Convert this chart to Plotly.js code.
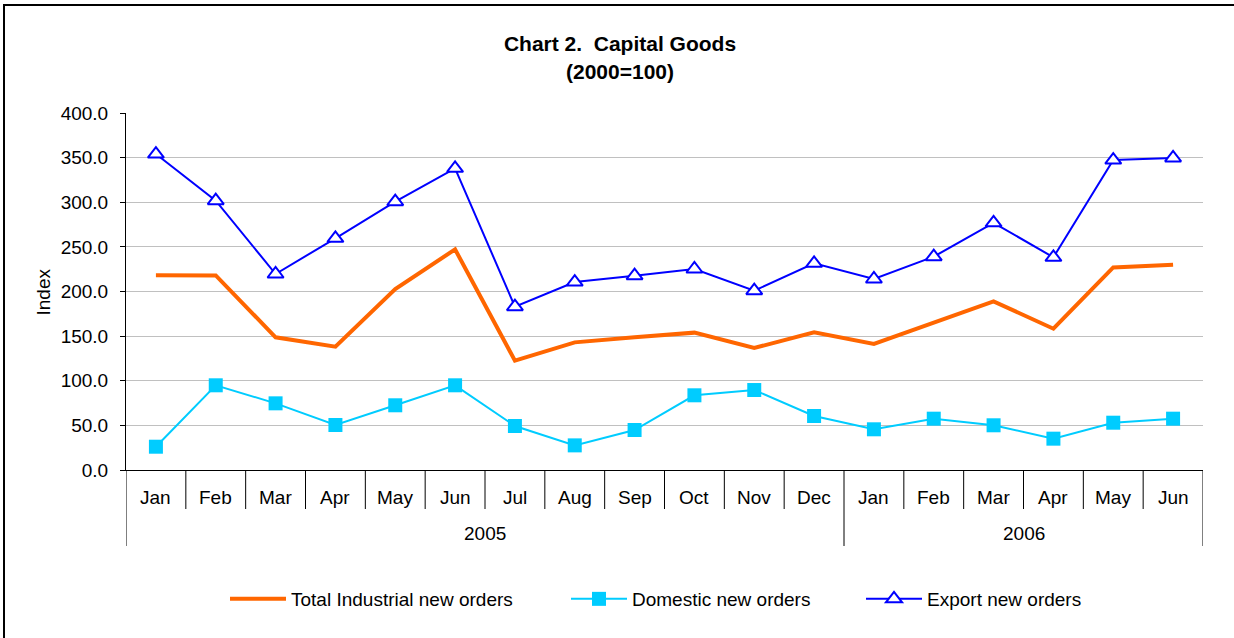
<!DOCTYPE html>
<html>
<head>
<meta charset="utf-8">
<script src="https://cdn.plot.ly/plotly-3.0.1.min.js"></script>
<style>
  html, body { margin: 0; padding: 0; background: #fff; overflow: hidden; }
  #wrap { position: relative; width: 1234px; height: 638px; }
  #chart { width: 1234px; height: 638px; }
  #frame { position: absolute; left: 3px; top: 4px; width: 2000px; height: 2000px;
           border-top: 2px solid #000; border-left: 2px solid #000; pointer-events: none; }
</style>
</head>
<body>
<div id="wrap">
  <div id="chart"></div>
  <div id="frame"></div>
</div>
<script>
// ---- Data ----
const months = ["Jan","Feb","Mar","Apr","May","Jun","Jul","Aug","Sep","Oct","Nov","Dec",
                "Jan","Feb","Mar","Apr","May","Jun"];
const years  = ["2005","2005","2005","2005","2005","2005","2005","2005","2005","2005","2005","2005",
                "2006","2006","2006","2006","2006","2006"];
const totalOrders    = [218.2, 218.0, 148.7, 138.2, 202.8, 247.2, 122.5, 143.0, 148.7, 153.9, 136.7, 154.3,
                        141.2, 165.0, 189.0, 158.3, 227.0, 230.0];
const domesticOrders = [26.1, 94.9, 74.7, 50.4, 72.5, 94.9, 49.3, 27.6, 44.8, 83.7, 89.6, 60.5,
                        45.6, 57.5, 50.1, 35.1, 53.0, 57.5];
const exportOrders   = [354.0, 301.8, 219.6, 259.6, 300.6, 338.0, 183.0, 210.6, 217.7, 225.2, 200.9, 231.6,
                        214.0, 239.0, 277.0, 238.3, 347.3, 349.6];
const seriesNames = ["Total Industrial new orders", "Domestic new orders", "Export new orders"];
const titleLine1 = "Chart 2.\u00a0 Capital Goods";
const titleLine2 = "(2000=100)";
const yTitle = "Index";

// ---- Layout helpers ----
const W = 1234, H = 638;
const mL = 126, mR = 31, mT = 113, mB = 168;
const plotH = H - mT - mB;           // 357
const plotW = W - mL - mR;           // 1077
const pyBelow = px => -px / plotH;   // pixels below x-axis -> paper y
const pyAbs = px => (H - mB - px) / plotH; // absolute pixel y -> paper y
const pxX = px => (px - mL) / plotW; // absolute pixel x -> paper x

const xIdx = months.map((_, i) => i);
const FONT = "Liberation Sans, Arial, sans-serif";

const traces = [
  { x: xIdx, y: totalOrders, name: seriesNames[0], type: "scatter", mode: "lines",
    line: { color: "#FF6600", width: 4 }, legend: "legend", showlegend: true },
  { x: xIdx, y: domesticOrders, name: seriesNames[1], type: "scatter", mode: "lines+markers",
    line: { color: "#00CCFF", width: 2 },
    marker: { symbol: "square", size: 14, color: "#00CCFF" }, legend: "legend2" },
  { x: xIdx, y: exportOrders, name: seriesNames[2], type: "scatter", mode: "lines+markers",
    line: { color: "#0000FF", width: 2 },
    marker: { symbol: "triangle-up", size: 14, color: "#FFFFFF", line: { color: "#0000FF", width: 2 } },
    legend: "legend3" }
];

// separators between categories
const shapes = [];
for (let i = 0; i <= months.length; i++) {
  const isYearBoundary = (i === 0 || i === months.length || years[i] !== years[i - 1]);
  shapes.push({ type: "line", xref: "x", yref: "paper", x0: i - 0.5, x1: i - 0.5,
    y0: 0, y1: pyBelow(isYearBoundary ? 76 : 39), line: { color: "#000", width: 1 } });
}

const annotations = [];
months.forEach((m, i) => annotations.push({
  text: m, xref: "x", yref: "paper", x: i, y: pyBelow(27), showarrow: false,
  xanchor: "center", yanchor: "middle", font: { family: FONT, size: 19, color: "#000" } }));
// year labels centred on their group
const uniqYears = [...new Set(years)];
uniqYears.forEach(y => {
  const idx = xIdx.filter(i => years[i] === y);
  const c = (idx[0] + idx[idx.length - 1]) / 2;
  annotations.push({ text: y, xref: "x", yref: "paper", x: c, y: pyBelow(63), showarrow: false,
    xanchor: "center", yanchor: "middle", font: { family: FONT, size: 19, color: "#000" } });
});
annotations.push({ text: titleLine2, xref: "paper", yref: "paper", x: pxX(620), y: pyAbs(71),
  xanchor: "center", yanchor: "middle", showarrow: false,
  font: { family: FONT, size: 21, color: "#000", weight: "bold" } });
annotations.push({ text: yTitle, xref: "paper", yref: "paper", x: pxX(43), y: 0.5, textangle: -90,
  xanchor: "center", yanchor: "middle", showarrow: false,
  font: { family: FONT, size: 19, color: "#000" } });

const legendBase = { orientation: "h", xanchor: "left", yanchor: "middle", y: pyBelow(129),
  font: { family: FONT, size: 19, color: "#000" }, bgcolor: "rgba(0,0,0,0)", itemwidth: 56,
  tracegroupgap: 0 };

const layout = {
  width: W, height: H,
  margin: { l: mL, r: mR, t: mT, b: mB, pad: 0 },
  paper_bgcolor: "#fff", plot_bgcolor: "#fff",
  font: { family: FONT, size: 19, color: "#000" },
  title: { text: titleLine1, x: 620 / W, xref: "container", xanchor: "center", y: 1 - 43.5 / H,
    yref: "container", yanchor: "middle", font: { family: FONT, size: 21, color: "#000", weight: "bold" } },
  xaxis: { range: [-0.5, months.length - 0.5], showticklabels: false, ticks: "", showgrid: false,
    zeroline: false, showline: true, linecolor: "#000", linewidth: 1, fixedrange: true },
  yaxis: { range: [0, 400], dtick: 50, tick0: 0, tickformat: ".1f", showgrid: true, gridcolor: "#C0C0C0",
    gridwidth: 1, zeroline: false, showline: true, linecolor: "#000", linewidth: 1,
    ticks: "outside", ticklen: 5, tickcolor: "#000", ticklabelstandoff: 8,
    tickfont: { family: FONT, size: 19, color: "#000" }, fixedrange: true },
  shapes: shapes,
  annotations: annotations,
  showlegend: true,
  legend:  Object.assign({}, legendBase, { x: pxX(225) }),
  legend2: Object.assign({}, legendBase, { x: pxX(566) }),
  legend3: Object.assign({}, legendBase, { x: pxX(861) })
};

Plotly.newPlot("chart", traces, layout, { displayModeBar: false, staticPlot: true });
</script>
</body>
</html>
